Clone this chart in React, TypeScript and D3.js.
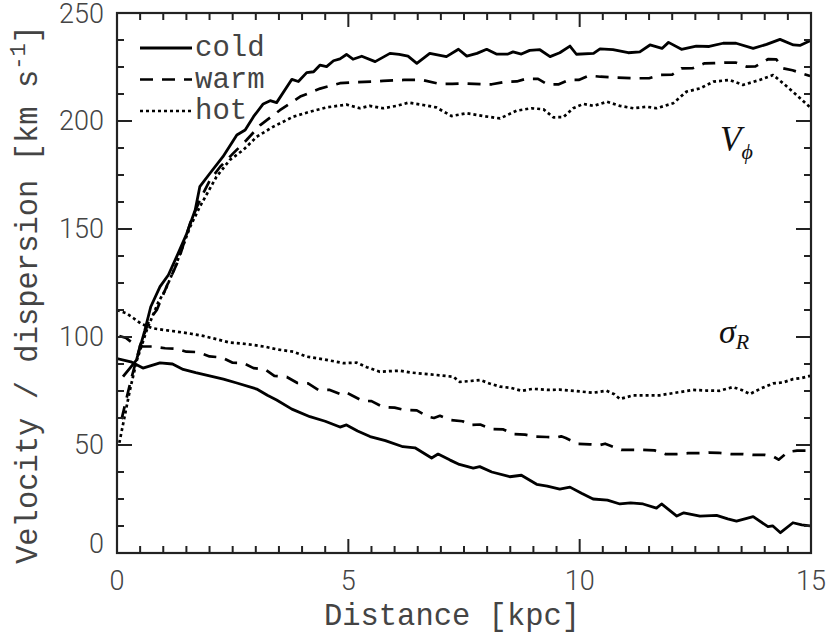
import React from "react";
import * as d3 from "d3";

type P = [number, number];

const vphiCold: P[] = [[0.13,81.6],[0.42,89.3],[0.6,103],[0.73,114],[0.93,123.3],[1.11,128.7],[1.29,137.2],[1.51,148],[1.69,158.8],[1.79,169.6],[2.01,175.8],[2.29,183.5],[2.59,193.5],[2.77,195.8],[2.95,202],[3.16,207.9],[3.31,209.4],[3.45,208.5],[3.78,219.3],[3.92,218.3],[4.1,222.4],[4.25,222.8],[4.39,225.9],[4.53,225.2],[4.68,227.9],[4.82,228.8],[4.96,230.8],[5.1,228.6],[5.29,230],[5.58,227.5],[5.9,231.3],[6.1,230.8],[6.29,230],[6.48,226.7],[6.76,231.3],[7.12,229.8],[7.38,233.2],[7.56,230],[7.78,231.3],[7.99,233.2],[8.2,231],[8.45,231],[8.56,232],[8.74,231],[8.92,232.7],[9.14,233],[9.36,229.8],[9.57,231.6],[9.79,234.7],[9.93,230.9],[10.3,231.3],[10.44,233.4],[10.72,233],[11.05,231.6],[11.3,232],[11.52,235.2],[11.78,233.6],[11.92,236.4],[12.2,233.2],[12.52,234.7],[12.8,234.5],[13.1,236],[13.38,236],[13.75,233.6],[14.04,235.5],[14.33,237.8],[14.62,235.2],[14.76,235],[14.98,237.2]];

const vphiWarm: P[] = [[0.1,62],[0.3,80],[0.5,96],[0.7,108],[0.86,112.5],[1.07,123.3],[1.33,135.6],[1.58,152.6],[1.79,163.4],[2.01,172.7],[2.23,178.8],[2.51,185],[2.8,191.2],[3.09,198],[3.52,205],[3.96,211.3],[4.39,215],[4.82,217.5],[5.2,218],[5.5,218.2],[5.75,218.6],[6.2,219],[6.6,219],[6.99,217.1],[7.25,217.2],[7.5,217.4],[7.9,217],[8.1,217],[8.4,218.2],[8.64,218.3],[8.85,219.6],[9.1,219.5],[9.3,217],[9.55,217],[9.76,219],[9.98,219],[10.2,221],[10.45,220.5],[10.72,220.2],[11.2,219.8],[11.5,219.8],[11.73,221.3],[12.0,221.5],[12.2,224.4],[12.45,224.5],[12.7,226.7],[12.9,226.8],[13.13,227],[13.38,227],[13.6,225.2],[13.8,225.3],[14.07,228.6],[14.25,228.5],[14.4,224.4],[14.6,223.5],[14.98,220.8]];

const vphiHot: P[] = [[0.05,51],[0.28,75.5],[0.43,89.3],[0.64,103],[0.89,116],[1.05,122],[1.25,132],[1.58,151],[1.79,160.3],[2.15,174.2],[2.44,182],[2.73,186.6],[3.02,192.7],[3.38,197.4],[3.81,202],[4.17,204.3],[4.53,206.3],[4.96,207.6],[5.25,205.9],[5.46,207],[5.75,205.9],[6.04,207],[6.3,208.5],[6.62,207.4],[6.9,206.3],[7.23,202.3],[7.56,203.6],[7.92,202.3],[8.28,201.2],[8.64,204.8],[8.96,205.9],[9.22,205.4],[9.43,201.7],[9.65,201.8],[9.86,205.9],[10.08,207.9],[10.3,207],[10.59,208.9],[10.87,207],[11.16,205.9],[11.45,206.6],[11.66,205.9],[12.02,208.2],[12.31,213.6],[12.6,215.1],[12.89,218.2],[13.24,219],[13.53,216.7],[13.89,219],[14.18,221.3],[14.4,217.4],[14.69,212],[14.98,206.3]];

const sigmaCold: P[] = [[0.0,90],[0.3,88.5],[0.56,85.6],[0.93,88],[1.2,87.5],[1.43,85],[1.7,83.5],[2.0,82],[2.3,80.5],[2.59,78.7],[3.02,75.9],[3.25,73],[3.45,70.8],[3.78,66.6],[4.17,63.1],[4.5,61],[4.82,58.3],[4.96,59.3],[5.2,56.5],[5.47,53.9],[5.8,52],[6.18,49.2],[6.44,48.7],[6.8,44],[6.94,45.8],[7.2,43],[7.4,41],[7.7,39.3],[7.84,40],[8.1,37.5],[8.49,35.3],[8.74,36],[9.07,31.8],[9.3,31],[9.57,29.6],[9.79,30.5],[10.05,27.5],[10.29,25],[10.6,24.5],[10.87,22.7],[11.1,23.2],[11.37,22.7],[11.66,20.8],[11.77,22.7],[12.1,17.1],[12.25,18.6],[12.6,17.1],[12.96,17.4],[13.2,15.8],[13.39,14.8],[13.75,16.8],[14.07,12.2],[14.17,12.6],[14.34,9.4],[14.61,14],[14.8,13],[14.98,12.6]];

const sigmaWarm: P[] = [[0.05,100.5],[0.2,99.5],[0.35,97],[0.56,95.6],[0.78,95.6],[1.04,94.8],[1.3,94.5],[1.5,93.2],[1.75,93],[2.0,91],[2.27,90.5],[2.5,88.1],[2.72,88],[2.95,85.6],[3.2,85],[3.4,82],[3.67,81.5],[3.9,78.7],[4.13,78.5],[4.35,75.5],[4.6,75.5],[4.82,73.6],[4.93,74.5],[5.03,73.5],[5.3,70.5],[5.5,70.3],[5.75,67.6],[6.0,67.3],[6.22,66.2],[6.48,66],[6.72,63.1],[6.85,62.5],[6.98,63.5],[7.2,61.6],[7.47,61],[7.63,59.3],[7.85,59.5],[8.1,57.4],[8.35,57.2],[8.56,55.1],[8.82,54.8],[9.03,53.9],[9.29,53.7],[9.5,53.5],[9.6,54],[9.7,53.2],[9.96,50.5],[10.22,50.3],[10.44,50],[10.55,50.6],[10.65,49.8],[10.9,47.7],[11.15,47.8],[11.37,47.7],[11.62,47.5],[11.85,45.8],[12.1,45.8],[12.34,46.2],[12.6,46.2],[12.8,46.5],[13.0,46.4],[13.27,45.8],[13.53,45.8],[13.75,45.4],[14.0,45.4],[14.2,44.5],[14.3,43.2],[14.5,46.8],[14.7,47.4],[14.98,47.4]];

const sigmaHot: P[] = [[0.0,112.5],[0.2,111],[0.35,108.8],[0.53,106],[0.78,104],[1.0,103.3],[1.29,102.5],[1.6,101.5],[1.86,100.5],[2.15,99],[2.44,97.4],[2.7,97],[2.95,96.3],[3.2,95.5],[3.45,94.3],[3.81,93.2],[4.1,90.9],[4.46,89.7],[4.89,87.9],[5.18,88.1],[5.4,86],[5.68,83.9],[5.9,84.2],[6.11,84.4],[6.33,83.6],[6.6,83],[6.91,82.4],[7.27,81.6],[7.41,79.2],[7.63,79.6],[7.85,80.1],[8.05,78.5],[8.28,77],[8.5,76.5],[8.75,75.1],[8.99,76],[9.3,75.5],[9.57,75.6],[9.9,75],[10.29,74.2],[10.58,75.1],[10.75,73.5],[10.87,71.3],[11.16,73],[11.45,73],[11.73,73],[12.1,74.3],[12.45,75.5],[12.75,75.2],[13.02,75.1],[13.31,76.8],[13.5,75.5],[13.68,73.6],[13.9,76],[14.18,78.5],[14.4,79],[14.61,80.5],[14.8,81],[14.98,82]];

const seriesNames = ["cold", "warm", "hot"];
const xMajorTicks = [0, 5, 10, 15];
const yMajorTicks = [0, 50, 100, 150, 200, 250];
const xMinorTicks = d3.range(0, 15.001, 0.5);
const yMinorTicks = d3.range(0, 250.001, 12.5);

const dashFor: Record<string, string | undefined> = {
  cold: undefined,
  warm: "13,9",
  hot: "3,3",
};

export default function App() {
  const W = 830, H = 634;
  const L = 117, R = 811, T = 13, B = 553;
  const x = d3.scaleLinear().domain([0, 15]).range([L, R]);
  const y = d3.scaleLinear().domain([0, 250]).range([B, T]);
  const line = d3.line<P>().x((d) => x(d[0])).y((d) => y(d[1]));

  const curves: { name: string; data: P[] }[] = [
    { name: "cold", data: vphiCold },
    { name: "warm", data: vphiWarm },
    { name: "hot", data: vphiHot },
    { name: "cold", data: sigmaCold },
    { name: "warm", data: sigmaWarm },
    { name: "hot", data: sigmaHot },
  ];

  const monoFont = "'Liberation Mono', 'DejaVu Sans Mono', monospace";
  const numFont = "Roboto, 'Liberation Sans', sans-serif";
  const textColor = "#444";

  return (
    <svg width={W} height={H} style={{ position: "absolute", left: 0, top: 0, background: "#fff" }}>
      <rect x={0} y={0} width={W} height={H} fill="#fff" />
      <defs>
        <clipPath id="clip">
          <rect x={L} y={T} width={R - L} height={B - T} />
        </clipPath>
      </defs>
      {/* curves */}
      <g clipPath="url(#clip)">
        {curves.map((c, i) => (
          <path
            key={i}
            d={line(c.data) || ""}
            fill="none"
            stroke="#000"
            strokeWidth={c.name === "cold" ? 2.8 : 2.7}
            strokeDasharray={dashFor[c.name]}
            strokeLinejoin="round"
          />
        ))}
      </g>
      {/* ticks */}
      <g stroke="#222" strokeWidth={2}>
        {xMinorTicks.map((t) => {
          const major = xMajorTicks.includes(t);
          const len = major ? 14 : 7;
          return (
            <g key={"xt" + t}>
              <line x1={x(t)} x2={x(t)} y1={B} y2={B - len} />
              <line x1={x(t)} x2={x(t)} y1={T} y2={T + len} />
            </g>
          );
        })}
        {yMinorTicks.map((t) => {
          const major = yMajorTicks.includes(t);
          const len = major ? 15 : 7;
          return (
            <g key={"yt" + t}>
              <line x1={L} x2={L + len} y1={y(t)} y2={y(t)} />
              <line x1={R} x2={R - len} y1={y(t)} y2={y(t)} />
            </g>
          );
        })}
      </g>
      {/* frame */}
      <rect x={L} y={T} width={R - L} height={B - T} fill="none" stroke="#222" strokeWidth={2.2} />
      {/* tick labels */}
      <g fontFamily={numFont} fontWeight={300} fontSize={27} fill={textColor}>
        {xMajorTicks.map((t) => (
          <text key={"xl" + t} x={x(t)} y={590} textAnchor="middle">
            {t}
          </text>
        ))}
        {yMajorTicks.map((t) => (
          <text
            key={"yl" + t}
            x={104}
            y={y(t) + (t === 0 ? -9 : t === 250 ? 1 : 0)}
            textAnchor="end"
            dominantBaseline="central"
          >
            {t}
          </text>
        ))}
      </g>
      {/* axis titles */}
      <text x={452} y={625} textAnchor="middle" fontFamily={monoFont} fontSize={30.5} fill={textColor}>
        Distance [kpc]
      </text>
      <text
        transform={`translate(37, 564) rotate(-90)`}
        x={0}
        y={0}
        textAnchor="start"
        fontFamily={monoFont}
        fontSize={30.5}
        fill={textColor}
      >
        Velocity / dispersion [km s
        <tspan fontSize={22} dy={-12}>-1</tspan>
        <tspan dy={12}>]</tspan>
      </text>
      {/* legend */}
      {seriesNames.map((n, i) => (
        <g key={"lg" + n}>
          <line
            x1={140}
            x2={192}
            y1={48 + i * 31.5}
            y2={48 + i * 31.5}
            stroke="#000"
            strokeWidth={n === "cold" ? 2.8 : 2.7}
            strokeDasharray={dashFor[n]}
          />
          <text x={195} y={56 + i * 31.5} fontFamily={monoFont} fontSize={29} fill={textColor}>
            {n}
          </text>
        </g>
      ))}
      {/* annotations */}
      <text x={720} y={151} fontFamily="'Liberation Serif', serif" fontStyle="italic" fontSize={35} fill="#111">
        V
        <tspan fontSize={22} dy={8}>ϕ</tspan>
      </text>
      <text x={719} y={343} fontFamily="'Liberation Serif', serif" fontStyle="italic" fontSize={34} fill="#111">
        σ
        <tspan fontSize={22} dy={6}>R</tspan>
      </text>
    </svg>
  );
}
